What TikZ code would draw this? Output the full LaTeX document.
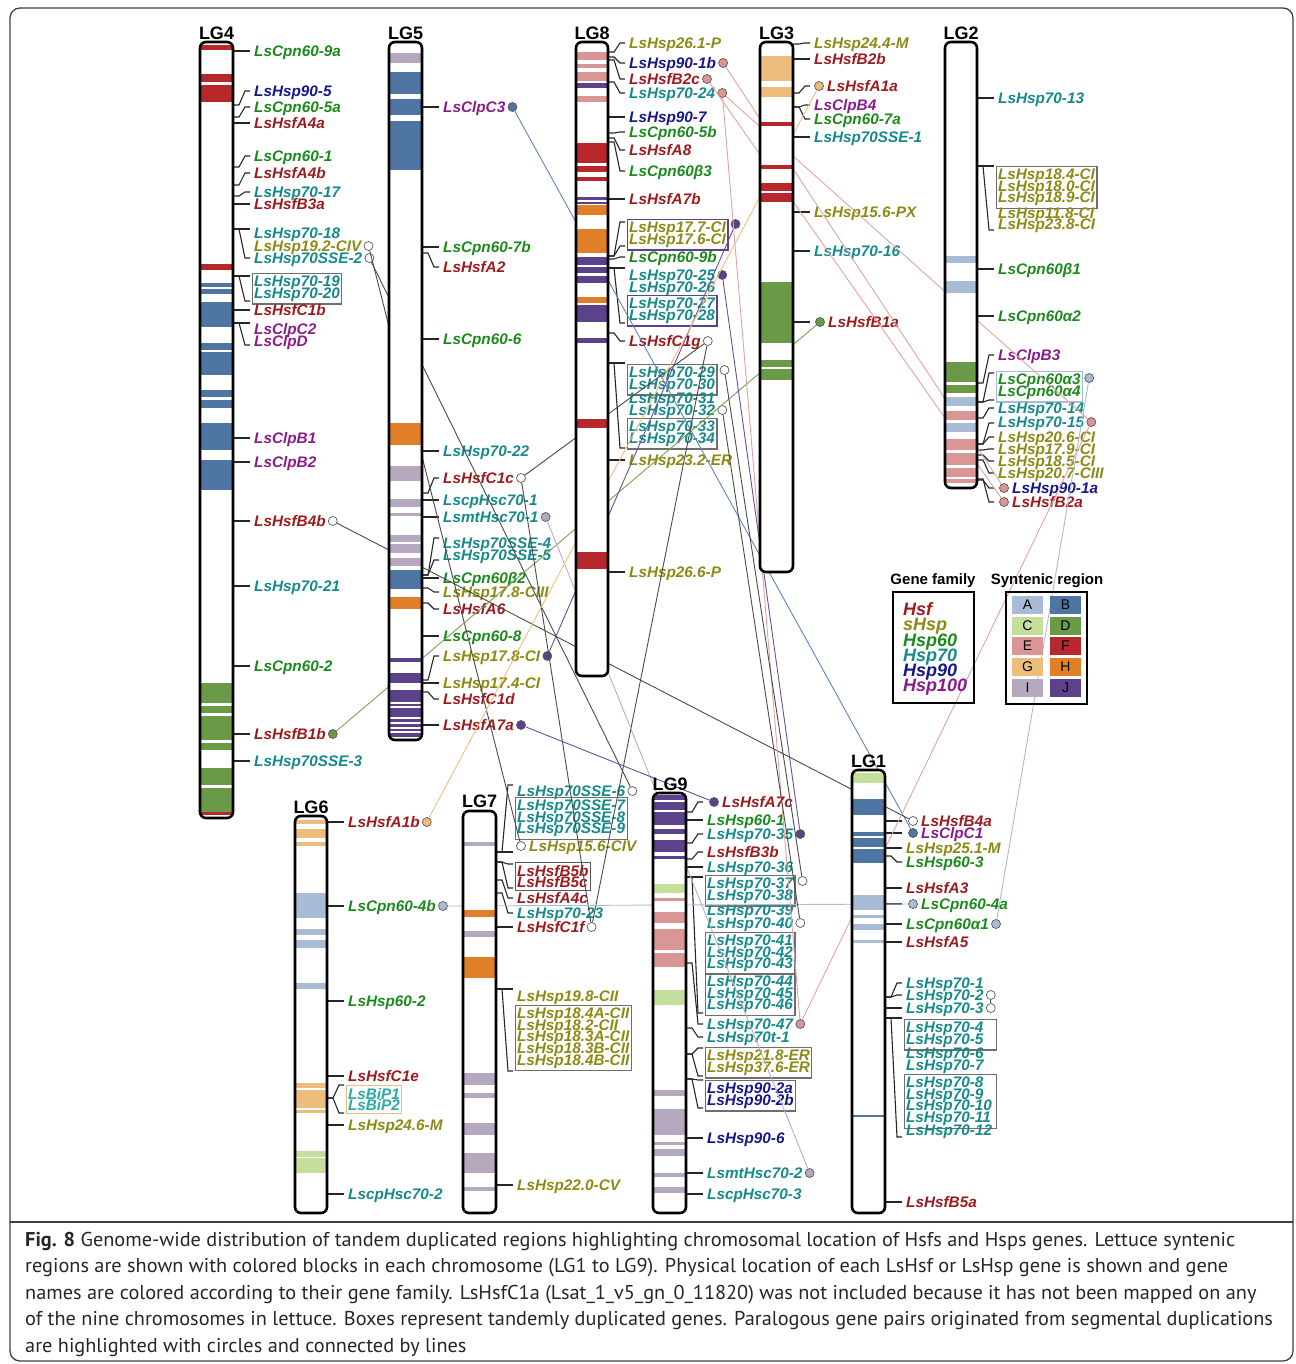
\documentclass[tikz,border=0pt]{standalone}
\usepackage{fontspec}
\setmainfont{Liberation Sans}
\newfontfamily\capfont[FakeStretch=1.015]{PT Sans}
\usetikzlibrary{calc}
\definecolor{cA}{HTML}{A9BCD6}
\definecolor{cB}{HTML}{4F76A3}
\definecolor{cC}{HTML}{C4DF9C}
\definecolor{cD}{HTML}{6A9948}
\definecolor{cE}{HTML}{D99694}
\definecolor{cF}{HTML}{B7272C}
\definecolor{cG}{HTML}{EDBD7E}
\definecolor{cH}{HTML}{E07F27}
\definecolor{cI}{HTML}{B6A9BF}
\definecolor{cJ}{HTML}{5B428A}
\definecolor{fHsf}{HTML}{9C1B1F}
\definecolor{fsHsp}{HTML}{8C8A14}
\definecolor{fHa}{HTML}{1B8A1B}
\definecolor{fHb}{HTML}{16898B}
\definecolor{fHc}{HTML}{16168C}
\definecolor{fHd}{HTML}{8B1B8B}
\definecolor{bip}{HTML}{2BA8A8}
\definecolor{boxgray}{HTML}{6E6E6E}
\definecolor{lnK}{HTML}{4A4A4A}
\definecolor{lnE}{HTML}{E3A2A2}
\definecolor{lnB}{HTML}{5F86B8}
\definecolor{lnA}{HTML}{A9BCD8}
\definecolor{lnD}{HTML}{76A552}
\definecolor{lnG}{HTML}{F0BE80}
\definecolor{lnJ}{HTML}{6A4FA0}
\definecolor{lnI}{HTML}{B9ADC6}
\newcommand\lab{\fontsize{15.3}{11.6}\selectfont\lineskiplimit=-100pt\bfseries\itshape}
\tikzset{
 glab/.style={anchor=base west, inner sep=0pt, font=\lab},
 tbx/.style={font=\lab, align=left, inner xsep=2pt, inner ysep=2.5pt, line width=1.1pt},
 circ/.style={circle, minimum size=9pt, inner sep=0pt, draw=black!65, line width=0.7pt},
 leader/.style={line width=1.1pt, black!85},
 chromo/.style={line width=2.6pt, rounded corners=6pt},
 conn/.style={line width=0.9pt},
 lgname/.style={font=\fontsize{18}{18}\selectfont\bfseries, inner sep=0pt, anchor=base},
 legent/.style={anchor=base west, inner sep=0pt, font=\fontsize{18}{18}\selectfont\bfseries\itshape},
 cellt/.style={inner sep=0pt, font=\fontsize{14}{14}\selectfont},
 capline/.style={anchor=base west, inner sep=0pt, font=\capfont\fontsize{20}{20}\selectfont, text=black!85},
}
\newcommand\GL[5]{\node[glab,text=#4] (#1) at ({#2},{#3+5.4}) {#5};}
\newcommand\GLC[6]{\GL{#1}{#2}{#3}{#4}{#5}\node[circ,fill=#6] (c#1) at ($(#1.base east)+(7,-5.4)$) {};}
\newcommand\CGL[6]{\node[circ,fill=#6] (c#1) at (#2,#3) {};\GL{#1}{#2+8}{#3}{#4}{#5}}
\newcommand\LD[3]{\draw[leader] (#1,#2) -- ({#1+6},#2) -- ({#1+12},#3) -- ({#1+17},#3);}
\newcommand\TB[7][]{\node[tbx,draw=#5,text=#6,anchor=north west,#1] (#2) at ({#3-2.5},{#4-8}) {#7};}
\newcommand\band[3]{\fill[#1] (\cxa,#2) rectangle (\cxb,#3);}
\newcommand\chromosome[5]{\fill[white,rounded corners=6pt] (#1,#2) rectangle (#3,#4);
 \begin{scope}\clip[rounded corners=6pt] (#1,#2) rectangle (#3,#4);\def\cxa{#1}\def\cxb{#3}#5\end{scope}
 \draw[chromo] (#1,#2) rectangle (#3,#4);}
\begin{document}
\begin{tikzpicture}[x=1pt,y=-1pt]
\useasboundingbox (0,0) rectangle (1295,1364);
\draw[line width=1.3pt, black!75, rounded corners=10pt] (10,8) rectangle (1293,1361);
\draw[line width=1.2pt, black!75] (10,1222) -- (1293,1222);
% ---------- LG4 labels
\LD{233}{51}{51} \GL{cpn609a}{254}{51}{fHa}{LsCpn60-9a}
\LD{233}{105}{91} \GL{hsp905}{254}{91}{fHc}{LsHsp90-5}
\LD{233}{117}{107} \GL{cpn605a}{254}{107}{fHa}{LsCpn60-5a}
\LD{233}{123}{123} \GL{hsfa4a}{254}{123}{fHsf}{LsHsfA4a}
\LD{233}{167}{156} \GL{cpn601}{254}{156}{fHa}{LsCpn60-1}
\LD{233}{185}{173} \GL{hsfa4b}{254}{173}{fHsf}{LsHsfA4b}
\LD{233}{196}{192} \GL{hsp7017}{254}{192}{fHb}{LsHsp70-17}
\LD{233}{204}{204} \GL{hsfb3a}{254}{204}{fHsf}{LsHsfB3a}
\LD{233}{229}{229}\LD{233}{229}{258}
\GL{hsp7018}{254}{233}{fHb}{LsHsp70-18}
\GLC{hsp192}{254}{246}{fsHsp}{LsHsp19.2-CIV}{white}
\GLC{sse2}{254}{258}{fHb}{LsHsp70SSE-2}{white}
\LD{233}{276}{276}\LD{233}{276}{301}
\TB{b7019}{254}{281}{boxgray}{fHb}{LsHsp70-19\\LsHsp70-20}
\LD{233}{310}{310} \GL{hsfc1b}{254}{310}{fHsf}{LsHsfC1b}
\LD{233}{323}{323}\LD{233}{323}{345}
\GL{clpc2}{254}{329}{fHd}{LsClpC2} \GL{clpd}{254}{341}{fHd}{LsClpD}
\LD{233}{438}{438} \GL{clpb1}{254}{438}{fHd}{LsClpB1}
\LD{233}{462}{462} \GL{clpb2}{254}{462}{fHd}{LsClpB2}
\LD{233}{521}{521} \GLC{hsfb4b}{254}{521}{fHsf}{LsHsfB4b}{white}
\LD{233}{586}{586} \GL{hsp7021}{254}{586}{fHb}{LsHsp70-21}
\LD{233}{666}{666} \GL{cpn602}{254}{666}{fHa}{LsCpn60-2}
\LD{233}{734}{734} \GLC{hsfb1b}{254}{734}{fHsf}{LsHsfB1b}{cD}
\LD{233}{761}{761} \GL{sse3}{254}{761}{fHb}{LsHsp70SSE-3}
% ---------- LG5 labels
\LD{422}{107}{107} \GLC{clpc3}{443}{107}{fHd}{LsClpC3}{cB}
\LD{422}{247}{247} \GL{cpn607b}{443}{247}{fHa}{LsCpn60-7b}
\LD{422}{253}{267} \GL{hsfa2}{443}{267}{fHsf}{LsHsfA2}
\LD{422}{339}{339} \GL{cpn606}{443}{339}{fHa}{LsCpn60-6}
\LD{422}{451}{451} \GL{hsp7022}{443}{451}{fHb}{LsHsp70-22}
\LD{422}{493}{478} \GLC{hsfc1c}{443}{478}{fHsf}{LsHsfC1c}{white}
\LD{422}{500}{500} \GL{cphsc1}{443}{500}{fHb}{LscpHsc70-1}
\LD{422}{517}{517} \GLC{mthsc1}{443}{517}{fHb}{LsmtHsc70-1}{cI}
\LD{422}{575}{538}\LD{422}{575}{560}
\GL{sse4}{443}{543}{fHb}{LsHsp70SSE-4} \GL{sse5}{443}{555}{fHb}{LsHsp70SSE-5}
\LD{422}{578}{578} \GL{cpn60b2}{443}{578}{fHa}{LsCpn60β2}
\LD{422}{588}{592} \GL{hsp178ciii}{443}{592}{fsHsp}{LsHsp17.8-CIII}
\LD{422}{603}{609} \GL{hsfa6}{443}{609}{fHsf}{LsHsfA6}
\LD{422}{636}{636} \GL{cpn608}{443}{636}{fHa}{LsCpn60-8}
\LD{422}{680}{656} \GLC{hsp178ci}{443}{656}{fsHsp}{LsHsp17.8-CI}{cJ}
\LD{422}{683}{683} \GL{hsp174}{443}{683}{fsHsp}{LsHsp17.4-CI}
\LD{422}{692}{699} \GL{hsfc1d}{443}{699}{fHsf}{LsHsfC1d}
\LD{422}{725}{725} \GLC{hsfa7a}{443}{725}{fHsf}{LsHsfA7a}{cJ}
% ---------- LG8 labels
\LD{608}{52}{43} \GL{hsp261}{629}{43}{fsHsp}{LsHsp26.1-P}
\LD{608}{57}{63} \GLC{hsp901b}{629}{63}{fHc}{LsHsp90-1b}{cE}
\LD{608}{60}{79} \GLC{hsfb2c}{629}{79}{fHsf}{LsHsfB2c}{cE}
\LD{608}{82}{93} \GLC{hsp7024}{629}{93}{fHb}{LsHsp70-24}{cE}
\LD{608}{117}{117} \GL{hsp907}{629}{117}{fHc}{LsHsp90-7}
\LD{608}{133}{132} \GL{cpn605b}{629}{132}{fHa}{LsCpn60-5b}
\LD{608}{138}{150} \GL{hsfa8}{629}{150}{fHsf}{LsHsfA8}
\LD{608}{142}{171} \GL{cpn60b3}{629}{171}{fHa}{LsCpn60β3}
\LD{608}{199}{199} \GL{hsfa7b}{629}{199}{fHsf}{LsHsfA7b}
\LD{608}{256}{222}\LD{608}{256}{246}
\TB{b177}{629}{227}{cJ}{fsHsp}{LsHsp17.7-CI\\LsHsp17.6-CI}
\node[circ,fill=cJ] (cb177) at ($(b177.north east)+(7,5)$) {};
\LD{608}{259}{257} \GL{cpn609b}{629}{257}{fHa}{LsCpn60-9b}
\LD{608}{268}{268}\LD{608}{268}{323}
\GLC{hsp7025}{629}{275}{fHb}{LsHsp70-25}{cJ}
\GL{hsp7026}{629}{287}{fHb}{LsHsp70-26}
\TB{b7027}{629}{303}{cJ}{fHb}{LsHsp70-27\\LsHsp70-28}
\LD{608}{333}{341} \GLC{hsfc1g}{629}{341}{fHsf}{LsHsfC1g}{white}
\LD{608}{363}{363}\LD{608}{363}{448}
\TB{b7029}{629}{372}{boxgray}{fHb}{LsHsp70-29\\LsHsp70-30}
\node[circ,fill=white] (cb7029) at ($(b7029.north east)+(7,6)$) {};
\GL{hsp7031}{629}{398}{fHb}{LsHsp70-31}
\GLC{hsp7032}{629}{410}{fHb}{LsHsp70-32}{white}
\TB{b7033}{629}{426}{boxgray}{fHb}{LsHsp70-33\\LsHsp70-34}
\LD{608}{460}{460} \GL{hsp232}{629}{460}{fsHsp}{LsHsp23.2-ER}
\LD{608}{572}{572} \GL{hsp266}{629}{572}{fsHsp}{LsHsp26.6-P}
% ---------- LG3 labels
\LD{793}{44}{43} \GL{hsp244}{814}{43}{fsHsp}{LsHsp24.4-M}
\LD{793}{59}{59} \GL{hsfb2b}{814}{59}{fHsf}{LsHsfB2b}
\LD{793}{93}{86} \CGL{hsfa1a}{819}{86}{fHsf}{LsHsfA1a}{cG}
\LD{793}{107}{105} \GL{clpb4}{814}{105}{fHd}{LsClpB4}
\LD{793}{107}{119} \GL{cpn607a}{814}{119}{fHa}{LsCpn60-7a}
\LD{793}{137}{137} \GL{sse1}{814}{137}{fHb}{LsHsp70SSE-1}
\LD{793}{212}{212} \GL{hsp156px}{814}{212}{fsHsp}{LsHsp15.6-PX}
\LD{793}{251}{251} \GL{hsp7016}{814}{251}{fHb}{LsHsp70-16}
\LD{793}{322}{322} \CGL{hsfb1a}{820}{322}{fHsf}{LsHsfB1a}{cD}
% ---------- LG2 labels
\LD{977}{98}{98} \GL{hsp7013}{998}{98}{fHb}{LsHsp70-13}
\LD{977}{166}{166}\LD{977}{166}{230}
\TB{b184}{998}{174}{boxgray}{fsHsp}{LsHsp18.4-CI\\LsHsp18.0-CI\\LsHsp18.9-CI}
\GL{hsp118}{998}{213}{fsHsp}{LsHsp11.8-CI}
\GL{hsp238}{998}{224}{fsHsp}{LsHsp23.8-CI}
\LD{977}{269}{269} \GL{cpn60b1}{998}{269}{fHa}{LsCpn60β1}
\LD{977}{316}{316} \GL{cpn60a2}{998}{316}{fHa}{LsCpn60α2}
\LD{977}{383}{355} \GL{clpb3}{998}{355}{fHd}{LsClpB3}
\LD{977}{402}{373}\LD{977}{402}{400}
\TB{ba3}{998}{379}{cA}{fHa}{LsCpn60α3\\LsCpn60α4}
\node[circ,fill=cA] (cba3) at ($(ba3.north east)+(6,7)$) {};
\LD{977}{418}{408} \GL{hsp7014}{998}{408}{fHb}{LsHsp70-14}
\LD{977}{444}{423} \GLC{hsp7015}{998}{422}{fHb}{LsHsp70-15}{cE}
\LD{977}{444}{437} \GL{hsp206}{998}{437}{fsHsp}{LsHsp20.6-CI}
\LD{977}{450}{449} \GL{hsp179}{998}{449}{fsHsp}{LsHsp17.9-CI}
\LD{977}{455}{461} \GL{hsp185}{998}{461}{fsHsp}{LsHsp18.5-CI}
\LD{977}{460}{473} \GL{hsp207}{998}{473}{fsHsp}{LsHsp20.7-CIII}
\LD{977}{480}{488} \CGL{hsp901a}{1004}{488}{fHc}{LsHsp90-1a}{cE}
\LD{977}{479}{502} \CGL{hsfb2a}{1004}{502}{fHsf}{LsHsfB2a}{cE}
% ---------- LG6 labels
\LD{327}{822}{822} \GLC{hsfa1b}{348}{822}{fHsf}{LsHsfA1b}{cG}
\LD{327}{906}{906} \GLC{cpn604b}{348}{906}{fHa}{LsCpn60-4b}{cA}
\LD{327}{1001}{1001} \GL{hsp602}{348}{1001}{fHa}{LsHsp60-2}
\LD{327}{1076}{1076} \GL{hsfc1e}{348}{1076}{fHsf}{LsHsfC1e}
\LD{327}{1098}{1085}\LD{327}{1098}{1113}
\TB{bbip}{348}{1093}{cG}{bip}{LsBiP1\\LsBiP2}
\LD{327}{1125}{1125} \GL{hsp246}{348}{1125}{fsHsp}{LsHsp24.6-M}
\LD{327}{1194}{1194} \GL{cphsc2}{348}{1194}{fHb}{LscpHsc70-2}
% ---------- LG7 labels
\LD{496}{852}{785}\LD{496}{852}{852}
\GLC{sse6}{517}{791}{fHb}{LsHsp70SSE-6}{white}
\TB{bsse7}{517}{805}{boxgray}{fHb}{LsHsp70SSE-7\\LsHsp70SSE-8\\LsHsp70SSE-9}
\CGL{hsp156civ}{521}{846}{fsHsp}{LsHsp15.6-CIV}{white}
\LD{496}{862}{864}\LD{496}{862}{888}
\TB{bb5b}{517}{870}{black!65}{fHsf}{LsHsfB5b\\LsHsfB5c}
\LD{496}{880}{898} \GL{hsfa4c}{517}{898}{fHsf}{LsHsfA4c}
\LD{496}{893}{913} \GL{hsp7023}{517}{913}{fHb}{LsHsp70-23}
\LD{496}{927}{927} \GLC{hsfc1f}{517}{927}{fHsf}{LsHsfC1f}{white}
\LD{496}{989}{989}\LD{496}{989}{1071}
\GL{hsp198}{517}{996}{fsHsp}{LsHsp19.8-CII}
\TB{b184a}{517}{1013}{boxgray}{fsHsp}{LsHsp18.4A-CII\\LsHsp18.2-CII\\LsHsp18.3A-CII\\LsHsp18.3B-CII\\LsHsp18.4B-CII}
\LD{496}{1185}{1185} \GL{hsp220}{517}{1185}{fsHsp}{LsHsp22.0-CV}
% ---------- LG9 labels
\LD{686}{812}{802} \CGL{hsfa7c}{714}{802}{fHsf}{LsHsfA7c}{cJ}
\LD{686}{820}{820} \GL{hsp601}{707}{820}{fHa}{LsHsp60-1}
\LD{686}{843}{834} \GLC{hsp7035}{707}{834}{fHb}{LsHsp70-35}{cJ}
\LD{686}{859}{852} \GL{hsfb3b}{707}{852}{fHsf}{LsHsfB3b}
\LD{686}{867}{867} \GL{hsp7036}{707}{867}{fHb}{LsHsp70-36}
\LD{686}{877}{877}\LD{686}{877}{1013}
\TB{b7037}{707}{883}{boxgray}{fHb}{LsHsp70-37\\LsHsp70-38}
\node[circ,fill=white] (cb7037) at ($(b7037.north east)+(7,6)$) {};
\GL{hsp7039}{707}{910}{fHb}{LsHsp70-39}
\GLC{hsp7040}{707}{923}{fHb}{LsHsp70-40}{white}
\TB{b7041}{707}{940}{boxgray}{fHb}{LsHsp70-41\\LsHsp70-42\\LsHsp70-43}
\TB{b7044}{707}{981}{boxgray}{fHb}{LsHsp70-44\\LsHsp70-45\\LsHsp70-46}
\LD{686}{963}{1024} \GLC{hsp7047}{707}{1024}{fHb}{LsHsp70-47}{cE}
\LD{686}{1028}{1037} \GL{hsp70t1}{707}{1037}{fHb}{LsHsp70t-1}
\LD{686}{1054}{1048}\LD{686}{1054}{1076}
\TB{b218}{707}{1055}{boxgray}{fsHsp}{LsHsp21.8-ER\\LsHsp37.6-ER}
\LD{686}{1079}{1080}\LD{686}{1079}{1108}
\TB{b902a}{707}{1088}{boxgray}{fHc}{LsHsp90-2a\\LsHsp90-2b}
\LD{686}{1138}{1138} \GL{hsp906}{707}{1138}{fHc}{LsHsp90-6}
\LD{686}{1173}{1173} \GLC{mthsc2}{707}{1173}{fHb}{LsmtHsc70-2}{cI}
\LD{686}{1194}{1194} \GL{cphsc3}{707}{1194}{fHb}{LscpHsc70-3}
% ---------- LG1 labels
\LD{885}{821}{821} \CGL{hsfb4a}{913}{821}{fHsf}{LsHsfB4a}{white}
\LD{885}{833}{833} \CGL{clpc1}{913}{833}{fHd}{LsClpC1}{cB}
\LD{885}{848}{848} \GL{hsp251}{906}{848}{fsHsp}{LsHsp25.1-M}
\LD{885}{856}{862} \GL{hsp603}{906}{862}{fHa}{LsHsp60-3}
\LD{885}{888}{888} \GL{hsfa3}{906}{888}{fHsf}{LsHsfA3}
\LD{885}{904}{904} \CGL{cpn604a}{913}{904}{fHa}{LsCpn60-4a}{cA}
\LD{885}{924}{924} \GLC{cpn60a1}{906}{924}{fHa}{LsCpn60α1}{cA}
\LD{885}{942}{942} \GL{hsfa5}{906}{942}{fHsf}{LsHsfA5}
\LD{885}{997}{983} \GL{hsp701}{906}{983}{fHb}{LsHsp70-1}
\LD{885}{997}{995} \GLC{hsp702}{906}{995}{fHb}{LsHsp70-2}{white}
\LD{885}{1008}{1008} \GLC{hsp703}{906}{1008}{fHb}{LsHsp70-3}{white}
\LD{885}{1018}{1018}\LD{885}{1018}{1137}
\TB[text width=88pt]{b704}{906}{1027}{boxgray}{fHb}{LsHsp70-4\\LsHsp70-5}
\GL{hsp706}{906}{1053}{fHb}{LsHsp70-6}
\GL{hsp707}{906}{1065}{fHb}{LsHsp70-7}
\TB[text width=88pt]{b708}{906}{1082}{boxgray}{fHb}{LsHsp70-8\\LsHsp70-9\\LsHsp70-10\\LsHsp70-11}
\GL{hsp7012}{906}{1130}{fHb}{LsHsp70-12}
\LD{885}{1202}{1202} \GL{hsfb5a}{906}{1202}{fHsf}{LsHsfB5a}
% ---------- syntenic connectors
\draw[conn, lnB] (cclpc3) -- (cclpc1);
\draw[conn, lnK] (chsp192) -- (chsp156civ);
\draw[conn, lnK] (csse2) -- (csse6);
\draw[conn, lnK] (chsfb4b) -- (chsfb4a);
\draw[conn, lnD] (chsfb1b) -- (chsfb1a);
\draw[conn, lnK] (chsfc1c) -- (chsfc1g);
\draw[conn, lnK] (chsfc1c) -- (chsfc1f);
\draw[conn, lnK] (chsfc1g) -- (chsfc1f);
\draw[conn, lnI] (cmthsc1) -- (cmthsc2);
\draw[conn, lnJ] (chsp178ci) -- (cb177);
\draw[conn, lnJ] (chsfa7a) -- (chsfa7c);
\draw[conn, lnG] (chsfa1b) -- (chsfa1a);
\draw[conn, lnA] (ccpn604b) -- (ccpn604a);
\draw[conn, lnE] (chsp901b) -- (chsp901a);
\draw[conn, lnE] (chsfb2c) -- (chsfb2a);
\draw[conn, lnE] (chsp7024) -- (chsp7015);
\draw[conn, lnE] (chsp7024) -- (chsp7047);
\draw[conn, lnE] (chsp7047) -- (chsp7015);
\draw[conn, lnA] (cba3) -- (ccpn60a1);
\draw[conn, lnJ] (chsp7025) -- (chsp7035);
\draw[conn, lnK] (cb7029) -- (cb7037);
\draw[conn, lnK] (chsp7032) -- (chsp7040);
\draw[conn, lnK] (chsp702) -- (chsp703);
% ---------- chromosomes
\chromosome{200}{42}{233}{818}{%
 \band{cF}{45}{50}\band{cF}{74}{82}\band{cF}{85}{102}\band{cF}{264}{270}
 \band{cB}{283}{287}\band{cB}{289}{294}\band{cB}{302}{327}\band{cB}{343}{350}\band{cB}{352}{375}
 \band{cB}{390}{397}\band{cB}{400}{408}\band{cB}{423}{450}\band{cB}{460}{490}
 \band{cD}{683}{703}\band{cD}{706}{713}\band{cD}{716}{740}\band{cD}{743}{750}\band{cD}{768}{785}\band{cD}{788}{812}\band{cF}{812}{815}}
\chromosome{389}{42}{422}{740}{%
 \band{cI}{53}{63}\band{cB}{72}{94}\band{cB}{99}{115}\band{cB}{121}{170}
 \band{cH}{423}{445}\band{cI}{466}{481}\band{cI}{499}{507}\band{cI}{513}{516}
 \band{cI}{535}{542}\band{cI}{544}{553}\band{cI}{558}{566}\band{cB}{570}{589}\band{cH}{597}{609}
 \band{cJ}{658}{662}\band{cJ}{673}{683}\band{cJ}{690}{702}\band{cJ}{704}{706}\band{cJ}{708}{717}
 \band{cJ}{719}{722}\band{cJ}{724}{727}\band{cJ}{729}{731}\band{cJ}{733}{737}}
\chromosome{576}{42}{608}{676}{%
 \band{cE}{52}{60}\band{cE}{64}{68}\band{cE}{72}{81}\band{cJ}{83}{88}\band{cE}{96}{102}
 \band{cF}{143}{163}\band{cF}{166}{172}\band{cF}{177}{181}
 \band{cJ}{197}{200}\band{cJ}{202}{204}\band{cH}{205}{215}\band{cH}{229}{253}
 \band{cJ}{257}{265}\band{cJ}{267}{273}\band{cJ}{276}{283}\band{cH}{297}{303}\band{cJ}{305}{322}\band{cJ}{338}{343}
 \band{cF}{419}{428}\band{cF}{552}{569}}
\chromosome{760}{42}{793}{572}{%
 \band{cG}{56}{81}\band{cG}{87}{97}\band{cF}{122}{126}\band{cF}{165}{169}\band{cF}{183}{191}\band{cF}{193}{202}
 \band{cD}{282}{343}\band{cD}{360}{367}\band{cD}{369}{380}}
\chromosome{945}{42}{977}{488}{%
 \band{cA}{256}{263}\band{cA}{281}{293}\band{cD}{362}{382}\band{cD}{385}{393}\band{cA}{397}{406}
 \band{cE}{411}{420}\band{cA}{423}{432}\band{cE}{439}{450}\band{cE}{453}{465}\band{cE}{468}{477}\band{cE}{479}{483}}
\chromosome{295}{816}{327}{1213}{%
 \band{cG}{820}{824}\band{cG}{829}{838}\band{cG}{842}{846}
 \band{cA}{893}{918}\band{cA}{929}{935}\band{cA}{940}{948}\band{cA}{983}{989}
 \band{cG}{1083}{1088}\band{cG}{1090}{1108}\band{cG}{1110}{1113}\band{cC}{1151}{1157}\band{cC}{1158}{1173}}
\chromosome{463}{811}{496}{1213}{%
 \band{cI}{842}{846}\band{cH}{910}{917}\band{cI}{931}{937}\band{cH}{957}{978}
 \band{cI}{1073}{1085}\band{cI}{1093}{1098}\band{cI}{1123}{1135}\band{cI}{1153}{1173}\band{cI}{1187}{1191}}
\chromosome{653}{793}{686}{1213}{%
 \band{cJ}{795}{800}\band{cJ}{802}{810}\band{cJ}{812}{825}\band{cJ}{829}{834}\band{cJ}{840}{852}\band{cJ}{856}{859}
 \band{cC}{884}{893}\band{cE}{898}{901}\band{cE}{912}{923}\band{cE}{929}{950}\band{cE}{953}{967}\band{cC}{990}{1005}
 \band{cI}{1090}{1096}\band{cI}{1109}{1135}\band{cI}{1142}{1145}\band{cI}{1149}{1156}\band{cI}{1173}{1177}\band{cI}{1187}{1193}}
\chromosome{852}{770}{885}{1213}{%
 \band{cC}{773}{783}\band{cB}{799}{815}\band{cB}{832}{836}\band{cB}{838}{847}\band{cB}{849}{863}
 \band{cA}{895}{910}\band{cA}{915}{918}\band{cA}{924}{930}\band{cA}{940}{943}\band{cB}{1115}{1117}}
\node[lgname] (lg4) at (216.5,39.5) {LG4};
\node[lgname] (lg5) at (405.5,39.5) {LG5};
\node[lgname] (lg8) at (592,39.5) {LG8};
\node[lgname] (lg3) at (776.5,39.5) {LG3};
\node[lgname] (lg2) at (961,39.5) {LG2};
\node[lgname] (lg6) at (311,813.5) {LG6};
\node[lgname] (lg7) at (479.5,807.5) {LG7};
\node[lgname] (lg9) at (670,790) {LG9};
\node[lgname] (lg1) at (868.5,767) {LG1};
% ---------- legend
\node[font=\fontsize{15}{15}\selectfont\bfseries, inner sep=0pt] (gft) at (933,581) {Gene family};
\draw[line width=2.4pt] (893,592) rectangle (974,703);
\node[legent,text=fHsf] (lghsf) at (903,615.7) {Hsf};
\node[legent,text=fsHsp] (lgshsp) at (903,630.9) {sHsp};
\node[legent,text=fHa] (lgh60) at (903,646) {Hsp60};
\node[legent,text=fHb] (lgh70) at (903,661.1) {Hsp70};
\node[legent,text=fHc] (lgh90) at (903,676.3) {Hsp90};
\node[legent,text=fHd] (lgh100) at (903,691.4) {Hsp100};
\node[font=\fontsize{15}{15}\selectfont\bfseries, inner sep=0pt] (srt) at (1047,581) {Syntenic region};
\draw[line width=2.4pt] (1006,592) rectangle (1087,704);
\foreach \l/\c/\x/\y in {A/cA/1012/596,B/cB/1050/596,C/cC/1012/617,D/cD/1050/617,E/cE/1012/637,F/cF/1050/637,G/cG/1012/658,H/cH/1050/658,I/cI/1012/679,J/cJ/1050/679}{
 \fill[\c] (\x,\y) rectangle ({\x+31},{\y+18});
 \node[cellt] (cell\l) at ({\x+15.5},{\y+9}) {\l};
}
% ---------- caption
\node[capline] (cap1) at (25,1246) {\textbf{Fig. 8} Genome-wide distribution of tandem duplicated regions highlighting chromosomal location of Hsfs and Hsps genes. Lettuce syntenic};
\node[capline] (cap2) at (25,1272.5) {regions are shown with colored blocks in each chromosome (LG1 to LG9). Physical location of each LsHsf or LsHsp gene is shown and gene};
\node[capline] (cap3) at (25,1299) {names are colored according to their gene family. LsHsfC1a (Lsat\_1\_v5\_gn\_0\_11820) was not included because it has not been mapped on any};
\node[capline] (cap4) at (25,1325.5) {of the nine chromosomes in lettuce. Boxes represent tandemly duplicated genes. Paralogous gene pairs originated from segmental duplications};
\node[capline] (cap5) at (25,1352) {are highlighted with circles and connected by lines};
\end{tikzpicture}
\end{document}
